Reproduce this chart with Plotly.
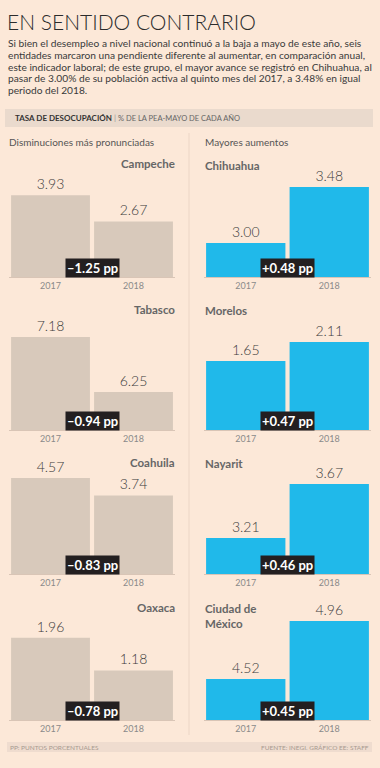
import plotly.graph_objects as go

# ---------------- data ----------------
years = ["2017", "2018"]

left_states = ["Campeche", "Tabasco", "Coahuila", "Oaxaca"]
left_2017 = [3.93, 7.18, 4.57, 1.96]
left_2018 = [2.67, 6.25, 3.74, 1.18]
left_delta = [-1.25, -0.94, -0.83, -0.78]

right_states = ["Chihuahua", "Morelos", "Nayarit", "Ciudad de<br>México"]
right_2017 = [3.00, 1.65, 3.21, 4.52]
right_2018 = [3.48, 2.11, 3.67, 4.96]
right_delta = [0.48, 0.47, 0.46, 0.45]

title = "EN SENTIDO CONTRARIO"
subtitle_lines = [
    "Si bien el desempleo a nivel nacional continuó a la baja a mayo de este año, seis",
    "entidades marcaron una pendiente diferente al aumentar, en comparación anual,",
    "este indicador laboral; de este grupo, el mayor avance se registró en Chihuahua, al",
    "pasar de 3.00% de su población activa al quinto mes del 2017, a 3.48% en igual",
    "periodo del 2018.",
]
header_bold = "TASA DE DESOCUPACIÓN"
header_rest = "% DE LA PEA-MAYO DE CADA AÑO"
col_left = "Disminuciones más pronunciadas"
col_right = "Mayores aumentos"
foot_left = "PP: PUNTOS PORCENTUALES"
foot_right = "FUENTE: INEGI. GRÁFICO EE: STAFF"

# ---------------- layout helpers ----------------
W, H = 380, 768
BG = "#fce8d8"
LEFT_COLOR = "#d8c9bb"
RIGHT_COLOR = "#20b9ea"
FONT = "Lato"

baselines = [277, 430, 574, 720]          # pixel rows of panel baselines
panel_h = 120
left_axis_floor = [0, 5.607, 0, 0]
left_axis_scale = [20.8, 59.1, 21.0, 42.0]     # px per unit
right_axis_floor = [2.709, 0, 2.903, 4.209]
right_axis_scale = [116.7, 41.75, 117.4, 131.8]
title_rows = [164, 309, 462, 607]

def px(x):
    return x / W

def py(y):
    return 1 - y / H

fig = go.Figure()
layout_axes = {}
annotations = []
shapes = []

def fmt_delta(d):
    s = f"{d:+.2f} pp"
    return s.replace("-", "–")

ax = 0
for side in ("left", "right"):
    for i in range(4):
        ax += 1
        if side == "left":
            vals = [left_2017[i], left_2018[i]]
            color = LEFT_COLOR
            floor, scale = left_axis_floor[i], left_axis_scale[i]
            xdom = [px(9), px(175)]
            delta = left_delta[i]
            dx = 92
            name = left_states[i]
        else:
            vals = [right_2017[i], right_2018[i]]
            color = RIGHT_COLOR
            floor, scale = right_axis_floor[i], right_axis_scale[i]
            xdom = [px(204), px(371)]
            delta = right_delta[i]
            dx = 287.5
            name = right_states[i]
        B = baselines[i]
        xn = "x" if ax == 1 else f"x{ax}"
        yn = "y" if ax == 1 else f"y{ax}"
        fig.add_trace(go.Bar(
            x=years, y=vals, xaxis=xn, yaxis=yn,
            marker=dict(color=color, line=dict(width=0)),
            text=[f"{v:.2f}" for v in vals],
            textposition="outside",
            textfont=dict(family=FONT, size=14, color="#3b3b3b", weight=300),
            showlegend=False, hoverinfo="skip",
        ))
        key = "" if ax == 1 else str(ax)
        layout_axes[f"xaxis{key}"] = dict(
            domain=xdom, anchor=yn, type="category",
            showgrid=False, zeroline=False, showline=True,
            linecolor="#d9c5b6", linewidth=1, ticks="",
            tickfont=dict(family=FONT, size=9, color="#8a8a8a"),
            fixedrange=True,
        )
        layout_axes[f"yaxis{key}"] = dict(
            domain=[py(B), py(B - panel_h)], anchor=xn,
            range=[floor, floor + panel_h / scale],
            showgrid=False, zeroline=False, showticklabels=False,
            showline=False, ticks="", fixedrange=True,
        )
        # delta box
        annotations.append(dict(
            x=px(dx), y=py(B - 9.5), xref="paper", yref="paper",
            text=f"<b>{fmt_delta(delta)}</b>", showarrow=False,
            font=dict(family=FONT, size=13, color="white"),
            bgcolor="#231f20", borderpad=1, xanchor="center", yanchor="middle",
        ))
        # state name
        if side == "left":
            annotations.append(dict(
                x=px(177), y=py(title_rows[i]), xref="paper", yref="paper",
                text=f"<b>{name}</b>", showarrow=False, align="right",
                font=dict(family=FONT, size=11.5, color="#666666"),
                xanchor="right", yanchor="middle",
            ))
        else:
            annotations.append(dict(
                x=px(203), y=py(title_rows[i] - 7),
                xref="paper", yref="paper",
                text=f"<b>{name}</b>", showarrow=False, align="left",
                font=dict(family=FONT, size=11.5, color="#666666"),
                xanchor="left", yanchor="top",
            ))

# title and subtitle
annotations.append(dict(
    x=px(5), y=py(21), xref="paper", yref="paper", text=title, showarrow=False,
    font=dict(family=FONT, size=21, color="#2b2b2b", weight=300),
    xanchor="left", yanchor="middle",
))
sub_rows = [43, 55, 67, 78.5, 90]
for line, r in zip(subtitle_lines, sub_rows):
    annotations.append(dict(
        x=px(6), y=py(r), xref="paper", yref="paper", text=line, showarrow=False,
        font=dict(family=FONT, size=10.2, color="#3a3a3a"),
        xanchor="left", yanchor="middle",
    ))

# header bar
shapes.append(dict(type="rect", xref="paper", yref="paper",
                   x0=px(5), x1=px(373), y0=py(127), y1=py(109),
                   fillcolor="#eadacd", line=dict(width=0), layer="below"))
annotations.append(dict(
    x=px(13), y=py(118), xref="paper", yref="paper",
    text=f"<b>{header_bold}</b> <span style='color:#999'>|</span> "
         f"<span style='font-size:7.5px;color:#666'>{header_rest}</span>",
    showarrow=False, font=dict(family=FONT, size=8, color="#333333"),
    xanchor="left", yanchor="middle",
))

# column headers
annotations.append(dict(
    x=px(7), y=py(142), xref="paper", yref="paper", text=col_left, showarrow=False,
    font=dict(family=FONT, size=10, color="#555555"), xanchor="left", yanchor="middle"))
annotations.append(dict(
    x=px(203), y=py(142), xref="paper", yref="paper", text=col_right, showarrow=False,
    font=dict(family=FONT, size=10, color="#555555"), xanchor="left", yanchor="middle"))

# divider
shapes.append(dict(type="line", xref="paper", yref="paper",
                   x0=px(189), x1=px(189), y0=py(133), y1=py(735),
                   line=dict(color="#ecd6c6", width=1)))

# footer bar
shapes.append(dict(type="rect", xref="paper", yref="paper",
                   x0=px(7), x1=px(372), y0=py(752), y1=py(742),
                   fillcolor="#efdccf", line=dict(width=0), layer="below"))
annotations.append(dict(
    x=px(8), y=py(747), xref="paper", yref="paper", text=foot_left, showarrow=False,
    font=dict(family=FONT, size=6.5, color="#a89a90"), xanchor="left", yanchor="middle"))
annotations.append(dict(
    x=px(371), y=py(747), xref="paper", yref="paper", text=foot_right, showarrow=False,
    font=dict(family=FONT, size=6.5, color="#a89a90"), xanchor="right", yanchor="middle"))

fig.update_layout(
    width=W, height=H, margin=dict(l=0, r=0, t=0, b=0),
    paper_bgcolor=BG, plot_bgcolor=BG,
    bargap=0.05, showlegend=False,
    annotations=annotations, shapes=shapes,
    font=dict(family=FONT),
    **layout_axes,
)

fig.write_html(
    "out.html",
    config={"displayModeBar": False, "staticPlot": True},
    post_script="document.body.style.margin='0';document.body.style.overflow='hidden';"
                f"document.body.style.background='{BG}';",
)
